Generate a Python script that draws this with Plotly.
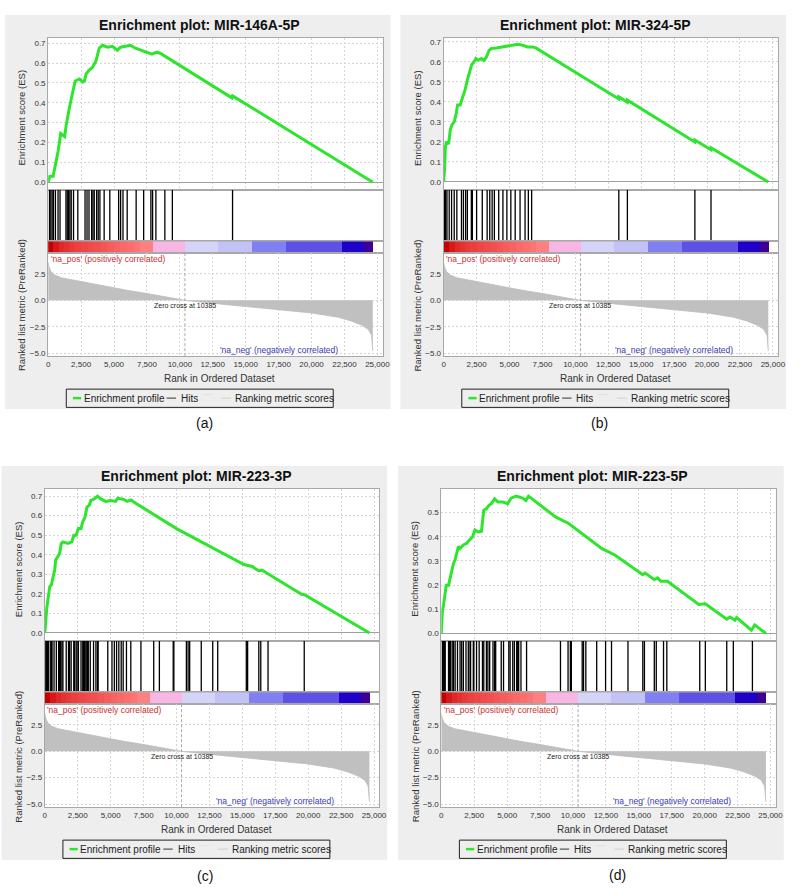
import plotly.graph_objects as go

W, H = 800, 895

# ---------------- data ----------------
titles = ["Enrichment plot: MIR-146A-5P", "Enrichment plot: MIR-324-5P",
          "Enrichment plot: MIR-223-3P", "Enrichment plot: MIR-223-5P"]
captions = ["(a)", "(b)", "(c)", "(d)"]

es_a_rank = [0, 125, 375, 500, 625, 750, 875, 950, 1250, 1375, 1625, 1875, 2050, 2375, 2625, 2750,
             2875, 3125, 3375, 3625, 3875, 4125, 4500, 4875, 5250, 5500, 6000, 6250, 6625, 7500,
             7875, 8250, 8500, 13950, 14000, 24650]
es_a_val = [0.0, 0.03, 0.03, 0.07, 0.10, 0.155, 0.21, 0.245, 0.23, 0.29, 0.38, 0.46, 0.51, 0.52,
            0.505, 0.51, 0.545, 0.565, 0.58, 0.61, 0.675, 0.69, 0.68, 0.685, 0.665, 0.68, 0.685,
            0.69, 0.675, 0.655, 0.645, 0.655, 0.65, 0.425, 0.435, 0.0]

es_b_rank = [0, 75, 125, 200, 375, 500, 625, 800, 950, 1050, 1250, 1375, 1500, 1625, 1800, 1950,
             2125, 2300, 2450, 2625, 2875, 3050, 3250, 3450, 3625, 4000, 4500, 5000, 5625, 6000,
             6375, 6750, 7000, 13290, 13300, 13940, 13950, 19065, 19075, 20290, 20300, 24650]
es_b_val = [0.0, 0.07, 0.17, 0.20, 0.19, 0.26, 0.285, 0.30, 0.34, 0.385, 0.385, 0.41, 0.435, 0.46,
            0.51, 0.55, 0.585, 0.60, 0.617, 0.608, 0.617, 0.608, 0.625, 0.658, 0.667, 0.67, 0.675,
            0.683, 0.688, 0.683, 0.675, 0.675, 0.67, 0.415, 0.425, 0.399, 0.409, 0.200, 0.210,
            0.161, 0.171, 0.0]

es_c_rank = [0, 75, 150, 250, 375, 500, 625, 750, 825, 1000, 1125, 1250, 1375, 1750, 2050, 2200,
             2375, 2550, 2750, 2875, 3050, 3200, 3375, 3500, 3750, 4000, 4250, 4625, 5000, 5375,
             5550, 6000, 6250, 6550, 6750, 10000, 15125, 15750, 16250, 16500, 17000, 19500, 19750,
             24650]
es_c_val = [0.0, 0.076, 0.127, 0.178, 0.237, 0.246, 0.28, 0.322, 0.373, 0.39, 0.407, 0.458, 0.466,
            0.458, 0.466, 0.5, 0.5, 0.534, 0.534, 0.568, 0.593, 0.644, 0.653, 0.678, 0.686, 0.70,
            0.686, 0.673, 0.678, 0.673, 0.69, 0.683, 0.673, 0.681, 0.67, 0.534, 0.35, 0.34, 0.317,
            0.322, 0.30, 0.198, 0.195, 0.0]

es_d_rank = [0, 75, 175, 300, 375, 550, 675, 800, 925, 1050, 1175, 1300, 1425, 1675, 1925, 2175,
             2375, 2550, 2800, 3050, 3225, 3425, 3625, 3800, 4050, 4300, 4675, 5050, 5300, 5675,
             6175, 6425, 6625, 8675, 9675, 12175, 13175, 15300, 15475, 16175, 16425, 16675, 17175,
             19550, 19800, 20050, 21675, 21925, 22300, 22425, 23550, 23800, 24650]
es_d_val = [0.0, 0.086, 0.12, 0.161, 0.2, 0.2, 0.23, 0.257, 0.29, 0.305, 0.332, 0.36, 0.352, 0.366,
            0.373, 0.387, 0.40, 0.428, 0.42, 0.423, 0.51, 0.516, 0.53, 0.537, 0.557, 0.544, 0.544,
            0.537, 0.56, 0.568, 0.56, 0.55, 0.568, 0.482, 0.455, 0.352, 0.325, 0.243, 0.25, 0.223,
            0.23, 0.216, 0.216, 0.12, 0.12, 0.123, 0.059, 0.068, 0.055, 0.066, 0.014, 0.036, 0.0]

hits_a = [100, 200, 300, 400, 550, 750, 900, 1350, 1450, 1550, 1650, 1750, 1925, 2250, 2800, 2950,
          3100, 3300, 3400, 3500, 3680, 3800, 3930, 4250, 4680, 5350, 5500, 5680, 6000, 6680, 7250,
          7800, 7930, 8180, 8860, 9430, 14000]
hits_b = [20, 50, 100, 150, 250, 420, 600, 800, 1000, 1350, 1500, 1670, 1800, 2100, 2180, 2500,
          2930, 3300, 3500, 3680, 3850, 4180, 4500, 4800, 5100, 5430, 5800, 6180, 6430, 6680,
          13300, 13950, 19075, 20300]
hits_c = [75, 130, 200, 250, 300, 450, 500, 550, 700, 875, 1050, 1130, 1200, 1300, 1375, 1625, 1800,
          1880, 2000, 2200, 2250, 2375, 2450, 2550, 2750, 2880, 2950, 3000, 3050, 3130, 3200, 3250,
          3300, 3450, 3700, 3880, 4000, 4050, 4780, 5100, 5280, 5450, 5620, 5800, 5950, 6200, 6530,
          7300, 8270, 8700, 9750, 9800, 10750, 10880, 11000, 11880, 12750, 13130, 15300, 15400,
          16250, 16400, 16950, 19700]
hits_d = [75, 130, 175, 230, 300, 550, 630, 680, 730, 875, 930, 1050, 1230, 1425, 1550, 1675, 1875,
          2050, 2180, 2225, 2430, 2475, 2675, 2875, 3125, 3225, 3425, 3480, 3630, 3675, 3925, 4050,
          4130, 4550, 4725, 5125, 5225, 5425, 5550, 5725, 5800, 5875, 6050, 6475, 9050, 9625, 9800,
          9875, 10700, 10800, 10975, 11800, 12475, 12925, 14175, 15300, 15425, 16175, 16325, 16875,
          17125, 19625, 20050, 21675, 22175, 23625]

metric_rank = [0, 60, 200, 500, 1000, 1800, 3000, 4500, 6000, 7500, 9000, 10385, 12000, 14000,
               16000, 18000, 20000, 22000, 23000, 23800, 24300, 24550, 24620, 24650]
metric_val = [3.6, 3.2, 2.75, 2.4, 2.15, 1.95, 1.65, 1.3, 0.95, 0.65, 0.33, 0.0, -0.22, -0.47,
              -0.72, -0.95, -1.2, -1.6, -1.95, -2.35, -2.75, -3.3, -4.0, -4.8]
zero_cross = 10385

band_edges = [0, 400, 800, 1200, 1600, 2000, 2500, 3000, 3500, 4000, 4500, 5000, 5500, 6000,
              6500, 7000, 8000, 10385, 12900, 15500, 18100, 22300, 24000, 24650]
band_colors = ["#C40000", "#D81818", "#E02828", "#E43030", "#E83838", "#EC4040", "#EE4646",
               "#F04A4A", "#F25050", "#F45656", "#F65C5C", "#F86262", "#FA6868", "#FC6E6E",
               "#FD7474", "#FF8080", "#F8B6E4", "#D4D4F8", "#C2C2F6", "#8080F2", "#5E52E6",
               "#1E00C8", "#3C0096"]

x_ticks = [0, 2500, 5000, 7500, 10000, 12500, 15000, 17500, 20000, 22500, 25000]
es_ticks_7 = [0.0, 0.1, 0.2, 0.3, 0.4, 0.5, 0.6, 0.7]
es_ticks_5 = [0.0, 0.1, 0.2, 0.3, 0.4, 0.5]
metric_ticks = [-5.0, -2.5, 0.0, 2.5]

panels = [
    dict(es_x=es_a_rank, es_y=es_a_val, hits=hits_a, es_ticks=es_ticks_7),
    dict(es_x=es_b_rank, es_y=es_b_val, hits=hits_b, es_ticks=es_ticks_7),
    dict(es_x=es_c_rank, es_y=es_c_val, hits=hits_c, es_ticks=es_ticks_7),
    dict(es_x=es_d_rank, es_y=es_d_val, hits=hits_d, es_ticks=es_ticks_5),
]

# ---------------- layout geometry (pixels) ----------------
offsets = [(0, 0), (400, 0), (-3.4, 452), (397.6, 452)]
es_ranges = [(-0.037, 0.727), (-0.038, 0.72), (-0.039, 0.737), (-0.029, 0.598)]
metric_range = (-5.3, 4.45)
x_range = (0, 25400)
L, R = 46.7, 385
ES_T, ES_B, HIT_B, BAR_B, MET_B = 38, 190, 242, 254, 357
caption_pos = [(205, 424), (604, 424), (205, 878), (622, 877)]

FONT = "Liberation Sans, Arial, sans-serif"
GREEN = "#2EE52E"


def fx(x):
    return x / W


def fy(y):
    return 1 - y / H


def label(text, x, y, size, color, xanchor="center", angle=0, xref="paper"):
    return dict(text=text, xref=xref, yref="paper", x=x, y=y, xanchor=xanchor, yanchor="middle",
                textangle=angle, showarrow=False, font=dict(size=size, color=color),
                borderpad=0)


fig = go.Figure()
layout = dict(width=W, height=H, margin=dict(l=0, r=0, t=0, b=0),
              paper_bgcolor="white", plot_bgcolor="rgba(0,0,0,0)", showlegend=False,
              font=dict(family=FONT, size=8, color="#333333"))
shapes = []
annotations = []

for p, pan in enumerate(panels):
    ox, oy = offsets[p]
    k_es, k_hit, k_bar, k_met = 4 * p + 1, 4 * p + 2, 4 * p + 3, 4 * p + 4

    def ax(k):
        return "" if k == 1 else str(k)

    # backgrounds
    shapes.append(dict(type="rect", xref="paper", yref="paper", layer="below",
                       x0=fx(ox + 3), x1=fx(ox + 393), y0=fy(oy + 410), y1=fy(oy + 15),
                       fillcolor="#EEEEEE", line=dict(width=0)))
    shapes.append(dict(type="rect", xref="paper", yref="paper", layer="below",
                       x0=fx(ox + L), x1=fx(ox + R), y0=fy(oy + MET_B), y1=fy(oy + ES_T),
                       fillcolor="white", line=dict(width=0)))

    xdom = [fx(ox + L), fx(ox + R)]
    rows = [(k_es, ES_T, ES_B), (k_hit, ES_B, HIT_B), (k_bar, HIT_B, BAR_B), (k_met, BAR_B, MET_B)]
    for k, top, bot in rows:
        xa = dict(domain=xdom, range=list(x_range), anchor="y" + ax(k), showline=True, mirror=True,
                  linecolor="#A8A8A8", linewidth=1, zeroline=False, fixedrange=True,
                  tickvals=x_ticks, showticklabels=False, showgrid=False, ticks="")
        ya = dict(domain=[fy(oy + bot), fy(oy + top)], anchor="x" + ax(k), showline=True,
                  mirror=True, linecolor="#A8A8A8", linewidth=1, zeroline=False, fixedrange=True,
                  showticklabels=False, showgrid=False, ticks="")
        if k == k_es:
            xa.update(showgrid=True, gridcolor="#D6D6D6", griddash="2px,2px")
            ya.update(range=list(es_ranges[p]), tickvals=pan["es_ticks"], tickformat=".1f",
                      showticklabels=True, showgrid=True, gridcolor="#D6D6D6", griddash="2px,2px",
                      zeroline=True, zerolinecolor="#A0A0A0", zerolinewidth=1,
                      tickfont=dict(size=8, color="#333333"))
        elif k == k_met:
            xa.update(showgrid=True, gridcolor="#D6D6D6", griddash="2px,2px",
                      showticklabels=True, tickformat=",", tickfont=dict(size=8, color="#333333"))
            ya.update(range=list(metric_range), tickvals=metric_ticks, tickformat=".1f",
                      showticklabels=True, showgrid=True, gridcolor="#D6D6D6", griddash="2px,2px",
                      tickfont=dict(size=8, color="#333333"))
        else:
            ya.update(range=[0, 1])
        layout["xaxis" + ax(k)] = xa
        layout["yaxis" + ax(k)] = ya

    # ES profile
    fig.add_trace(go.Scatter(x=pan["es_x"], y=pan["es_y"], mode="lines",
                             line=dict(color=GREEN, width=3),
                             xaxis="x" + ax(k_es), yaxis="y" + ax(k_es)))
    # hits
    hx, hy = [], []
    for h in pan["hits"]:
        hx += [h, h, None]
        hy += [0, 1, None]
    fig.add_trace(go.Scatter(x=hx, y=hy, mode="lines", line=dict(color="#000000", width=1.3),
                             xaxis="x" + ax(k_hit), yaxis="y" + ax(k_hit)))
    # colour bar
    centers = [(a + b) / 2 for a, b in zip(band_edges[:-1], band_edges[1:])]
    widths = [b - a for a, b in zip(band_edges[:-1], band_edges[1:])]
    fig.add_trace(go.Bar(x=centers, y=[1] * len(centers), width=widths, base=0,
                         marker=dict(color=band_colors, line=dict(width=0)),
                         xaxis="x" + ax(k_bar), yaxis="y" + ax(k_bar)))
    # ranked metric
    fig.add_trace(go.Scatter(x=metric_rank, y=metric_val, mode="lines", fill="tozeroy",
                             fillcolor="#C0C0C0", line=dict(color="#BDBDBD", width=0.8),
                             xaxis="x" + ax(k_met), yaxis="y" + ax(k_met)))
    shapes.append(dict(type="line", xref="x" + ax(k_met), yref="y" + ax(k_met) + " domain",
                       x0=zero_cross, x1=zero_cross, y0=0, y1=1,
                       line=dict(color="#A8A8A8", width=1, dash="3px,2px")))

    # texts
    annotations.append(label("<b>" + titles[p] + "</b>", fx(ox + 200), fy(oy + 25), 14, "#111111"))
    annotations.append(label("Enrichment score (ES)", fx(ox + 20), fy(oy + 118), 9.5, "#333333",
                             angle=-90))
    annotations.append(label("Ranked list metric (PreRanked)", fx(ox + 20), fy(oy + 306), 9.5,
                             "#333333", angle=-90))
    annotations.append(label("Rank in Ordered Dataset", fx(ox + 220), fy(oy + 379), 10, "#333333"))
    annotations.append(label("'na_pos' (positively correlated)", fx(ox + L + 1.5), fy(oy + 260),
                             8.5, "#C83232", xanchor="left"))
    annotations.append(label("'na_neg' (negatively correlated)", fx(ox + 219), fy(oy + 350.5),
                             8.5, "#3A3AB0", xanchor="left"))
    annotations.append(label("Zero cross at " + str(zero_cross), zero_cross, fy(oy + 306.5), 7,
                             "#222222", xref="x" + ax(k_met)))

    # legend box
    shapes.append(dict(type="rect", xref="paper", yref="paper", x0=fx(ox + 65), x1=fx(ox + 335),
                       y0=fy(oy + 408.3), y1=fy(oy + 390), line=dict(color="#222222", width=1),
                       fillcolor="#EEEEEE"))
    for x0, x1, yy, col, wd in [(71.7, 80, 399, GREEN, 2.5), (166.5, 176, 399, "#333333", 1),
                                (203, 213, 395.5, "#E2E2E2", 1), (221.7, 231.7, 399, "#D0D0D0", 1)]:
        shapes.append(dict(type="line", xref="paper", yref="paper", x0=fx(ox + x0), x1=fx(ox + x1),
                           y0=fy(oy + yy), y1=fy(oy + yy), line=dict(color=col, width=wd)))
    for tx, txt in [(81.7, "Enrichment profile"), (180, "Hits"), (235, "Ranking metric scores")]:
        annotations.append(label(txt, fx(ox + tx), fy(oy + 399), 10, "#222222", xanchor="left"))

    cx, cy = caption_pos[p]
    annotations.append(label(captions[p], fx(cx), fy(cy), 14, "#111111"))

layout["shapes"] = shapes
layout["annotations"] = annotations
layout["bargap"] = 0
fig.update_layout(**layout)

fig.write_html("out.html", config={"displayModeBar": False},
               post_script="document.body.style.margin='0px';")
